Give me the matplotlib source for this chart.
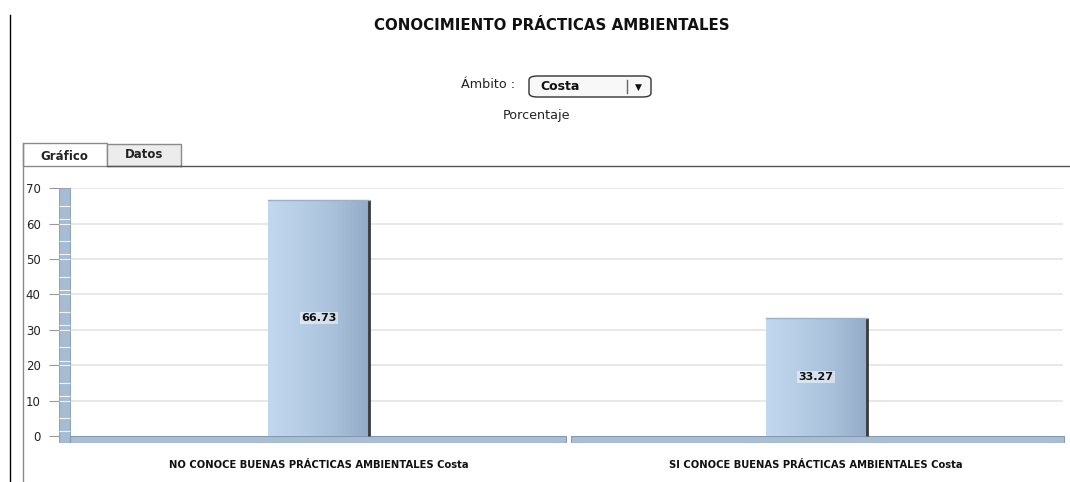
import numpy as np
import matplotlib
matplotlib.use("Agg")
import matplotlib.pyplot as plt
from matplotlib.patches import Rectangle, FancyBboxPatch
from matplotlib.colors import LinearSegmentedColormap
from matplotlib.lines import Line2D

# ---- data ----
title = "CONOCIMIENTO PRÁCTICAS AMBIENTALES"
categories = ["NO CONOCE BUENAS PRÁCTICAS AMBIENTALES Costa",
              "SI CONOCE BUENAS PRÁCTICAS AMBIENTALES Costa"]
values = [66.73, 33.27]
value_labels = ["66.73", "33.27"]
yticks = [0, 10, 20, 30, 40, 50, 60, 70]
ambito_label = "Ámbito :"
ambito_value = "Costa"
measure = "Porcentaje"
tabs = ["Gráfico", "Datos"]

W, H = 1070, 482
fig = plt.figure(figsize=(W / 100, H / 100), dpi=100)
fig.patch.set_facecolor("white")


def fx(x):
    return x / W


def fy(y):
    return 1 - y / H


# ---- page chrome ----
fig.add_artist(Line2D([fx(10), fx(10)], [fy(15), fy(482)], color="black", lw=1))
fig.add_artist(Line2D([fx(22.5), fx(22.5)], [fy(143), fy(482)], color="#8a8a8a", lw=1))
# tabs
fig.add_artist(Rectangle((fx(22.5), fy(166)), fx(107) - fx(22.5), fy(143) - fy(166),
                         facecolor="white", edgecolor="#8a8a8a", lw=1))
fig.add_artist(Rectangle((fx(107), fy(166)), fx(181) - fx(107), fy(144) - fy(166),
                         facecolor="#ececec", edgecolor="#8a8a8a", lw=1))
fig.add_artist(Line2D([fx(181), fx(1070)], [fy(166), fy(166)], color="#555555", lw=1))
fig.add_artist(Line2D([fx(107), fx(181)], [fy(166), fy(166)], color="#555555", lw=1))
fig.text(fx(64.5), fy(156), tabs[0], ha="center", va="center", fontsize=8.5,
         fontweight="bold", color="#222222")
fig.text(fx(144), fy(155), tabs[1], ha="center", va="center", fontsize=8.5,
         fontweight="bold", color="#222222")

# title and selector
fig.text(fx(552), fy(25), title, ha="center", va="center", fontsize=10.8,
         fontweight="bold", color="#111111")
fig.text(fx(515), fy(84), ambito_label, ha="right", va="center", fontsize=9.2,
         color="#222222")
fig.add_artist(FancyBboxPatch((fx(529), fy(97)), fx(651) - fx(529), fy(76) - fy(97),
                              boxstyle="round,pad=0,rounding_size=0.008",
                              facecolor="#f8f8f8", edgecolor="#333333", lw=1))
fig.text(fx(540), fy(87), ambito_value, ha="left", va="center", fontsize=9,
         fontweight="bold", color="#111111")
fig.add_artist(Line2D([fx(627), fx(627)], [fy(80), fy(93)], color="#666666", lw=1))
fig.text(fx(638), fy(87), "▼", ha="center", va="center", fontsize=6.5, color="#111111")
fig.text(fx(536), fy(115), measure, ha="center", va="center", fontsize=9.2,
         color="#222222")

# ---- chart ----
ax_left, ax_right, ax_top, ax_bottom = 59, 1065, 188, 443
ax = fig.add_axes([fx(ax_left), fy(ax_bottom), fx(ax_right) - fx(ax_left),
                   fy(ax_top) - fy(ax_bottom)])
ax.set_facecolor("none")
for s in ax.spines.values():
    s.set_visible(False)

n = len(categories)
xmin = -0.5 - 11 / 497.5
ymin = -2.0

# gridlines
ax.hlines(yticks[1:], -0.5, 1.5 - 0.004, color="#e4e4e4", lw=1.2, zorder=0)

# wall (left)
ax.add_patch(Rectangle((xmin, ymin), -0.5 - xmin - 0.001, yticks[-1] - ymin,
                       facecolor="#a7bcd2", edgecolor="#8ea4bd", lw=0.8, zorder=1))
wall_lines = []
for t in yticks:
    for d in (0.0, 1.3, 5.0):
        if 0 < t + d < yticks[-1]:
            wall_lines.append(t + d)
ax.hlines(wall_lines, xmin + 0.001, -0.501, color="white", lw=0.8, alpha=0.85, zorder=2)

# floor
for i in range(n):
    left = i - 0.5 + (0.008 if i > 0 else 0.0)
    right = i + 0.5 - (0.004 if i < n - 1 else 0.003)
    ax.add_patch(Rectangle((left, ymin), right - left, -ymin,
                           facecolor="#a9bdd3", edgecolor="#8499b2", lw=0.8, zorder=2))

# bars with gradient
cmap = LinearSegmentedColormap.from_list(
    "barg", ["#c2d8ef", "#b6cde6", "#a9c0da", "#93abc7"])
grad = np.linspace(0, 1, 256).reshape(1, -1)
bars = ax.bar(range(n), values, width=0.203, color="none", edgecolor="none", zorder=3)
for b in bars:
    x, w, h = b.get_x(), b.get_width(), b.get_height()
    im = ax.imshow(grad, extent=[x, x + w, 0, h], aspect="auto", cmap=cmap,
                   origin="lower", zorder=3, interpolation="bilinear")
    im.set_clip_path(b)
    ax.plot([x + w, x + w], [0, h], color="#3a3a3a", lw=2, zorder=4,
            solid_capstyle="butt")
    ax.plot([x, x + w], [h, h], color="#9bb1ca", lw=1, zorder=4)

for i, (v, lab) in enumerate(zip(values, value_labels)):
    ax.text(i, v / 2, lab, ha="center", va="center", fontsize=8,
            fontweight="bold", color="#111111", zorder=5,
            bbox=dict(facecolor="white", alpha=0.5, edgecolor="none", pad=1))

ax.set_xlim(xmin, 1.5)
ax.set_ylim(ymin, 70.05)
ax.set_yticks(yticks)
ax.set_yticklabels([str(t) for t in yticks])
ax.tick_params(axis="y", direction="out", length=7.2, width=0.8, color="#9a9a9a",
               pad=6, labelsize=8.5, labelcolor="#222222")
ax.set_xticks(range(n))
ax.set_xticklabels(categories, fontsize=7.2, fontweight="bold", color="#111111")
ax.tick_params(axis="x", length=0, pad=12)

fig.savefig("out.png", dpi=100, facecolor="white")
